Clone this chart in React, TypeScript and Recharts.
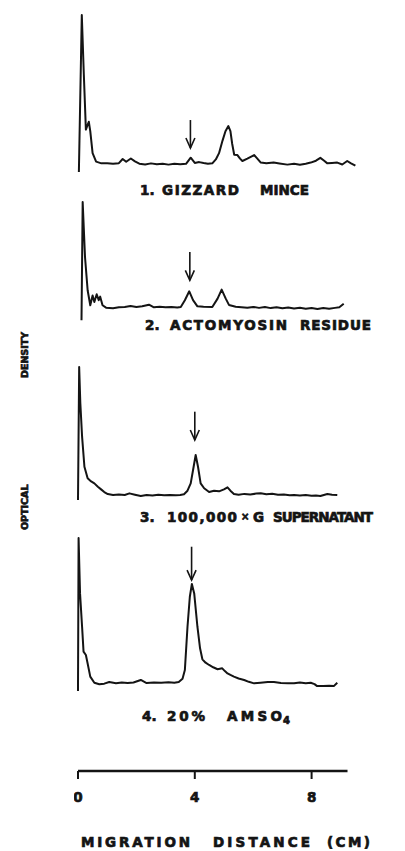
import React from "react";
import { LineChart, Line, XAxis, YAxis, ReferenceLine } from "recharts";

// densitometer traces, distance in cm and optical density in arbitrary units (0-100)
const minceCm = [0.03, 0.13, 0.2, 0.27, 0.33, 0.37, 0.42, 0.5, 0.62, 0.8, 1.0, 1.2, 1.4, 1.53, 1.65, 1.81, 1.95, 2.1, 2.3, 2.5, 2.7, 2.9, 3.1, 3.3, 3.5, 3.7, 3.86, 4.0, 4.15, 4.3, 4.45, 4.6, 4.72, 4.83, 4.95, 5.05, 5.15, 5.22, 5.28, 5.35, 5.46, 5.55, 5.63, 5.8, 5.95, 6.03, 6.12, 6.26, 6.45, 6.7, 6.9, 7.17, 7.4, 7.6, 7.8, 7.97, 8.15, 8.3, 8.42, 8.54, 8.7, 8.88, 9.05, 9.22, 9.35, 9.5];
const minceOd = [0, 100, 62, 27, 30, 32, 26, 12, 6.6, 5.5, 5.5, 5.3, 5.6, 8.3, 6.5, 8.6, 6.8, 5.3, 4.8, 5.5, 4.9, 5.3, 4.7, 5.2, 5, 5.2, 9.1, 5.8, 6.3, 5.7, 5.2, 5.5, 8, 12, 20, 26, 29.3, 26, 18, 11, 10.8, 8.5, 7, 8.5, 10, 10.8, 9, 6, 5.5, 6, 5.4, 4.7, 5.2, 4.6, 5.3, 6, 7.2, 9, 7.3, 5.5, 5.8, 6, 4.8, 7, 5.5, 4];

const residueCm = [0.12, 0.16, 0.24, 0.33, 0.42, 0.5, 0.56, 0.64, 0.71, 0.76, 0.84, 0.96, 1.2, 1.4, 1.6, 1.8, 2.0, 2.2, 2.43, 2.6, 2.8, 3.0, 3.2, 3.4, 3.52, 3.66, 3.81, 3.94, 4.09, 4.3, 4.6, 4.78, 4.92, 5.06, 5.17, 5.4, 5.6, 5.8, 6.0, 6.2, 6.4, 6.6, 6.8, 7.0, 7.2, 7.4, 7.6, 7.8, 8.0, 8.2, 8.4, 8.6, 8.8, 8.95, 9.1];
const residueOd = [0, 100, 53.5, 25.4, 12.7, 21, 15.5, 22, 17, 20, 12.7, 10.7, 10.2, 11, 11.3, 12, 11.3, 11.8, 13.2, 11, 11.5, 11, 11.3, 10.8, 11.3, 17, 24.5, 17, 11.8, 11.5, 11.3, 18.3, 26, 18.3, 13, 11.5, 11, 10.6, 11.3, 10.5, 11.2, 10.3, 11, 10.2, 10.8, 10, 10.6, 9.8, 10.4, 9.6, 10.4, 9.8, 10.5, 11, 14];

const supernatantCm = [0, 0.04, 0.08, 0.14, 0.22, 0.33, 0.45, 0.56, 0.68, 0.79, 0.9, 1.02, 1.2, 1.4, 1.6, 1.76, 1.95, 2.15, 2.35, 2.55, 2.75, 2.95, 3.15, 3.35, 3.5, 3.63, 3.75, 3.86, 3.96, 4.03, 4.11, 4.2, 4.32, 4.49, 4.66, 4.83, 5.0, 5.12, 5.22, 5.34, 5.5, 5.7, 5.9, 6.1, 6.26, 6.45, 6.65, 6.85, 7.05, 7.25, 7.4, 7.6, 7.8, 8.0, 8.15, 8.3, 8.42, 8.54, 8.7, 8.88];
const supernatantOd = [0, 100, 72.7, 47.6, 25, 16.3, 14, 12.5, 10, 8, 6, 4.5, 3.8, 4.2, 3.8, 5, 4, 3, 3.8, 3.3, 4, 3.5, 3.8, 3.6, 3.8, 4.3, 7, 12.5, 25, 33.8, 25, 12.5, 8.8, 6, 7, 6.5, 8, 9.5, 7, 4.5, 4, 4.6, 4.2, 4.8, 5, 4.4, 4.7, 4, 4.2, 3.6, 3.8, 3.4, 3.7, 3.2, 3.4, 3, 3.8, 4.5, 4, 3.8];

const amso4Cm = [0, 0.02, 0.07, 0.14, 0.19, 0.27, 0.33, 0.42, 0.56, 0.73, 0.9, 1.07, 1.3, 1.5, 1.7, 1.9, 2.15, 2.35, 2.6, 2.85, 3.1, 3.3, 3.45, 3.58, 3.66, 3.75, 3.83, 3.9, 3.98, 4.09, 4.18, 4.26, 4.37, 4.49, 4.63, 4.78, 4.94, 5.03, 5.12, 5.22, 5.34, 5.5, 5.69, 5.85, 6.03, 6.25, 6.5, 6.71, 6.95, 7.2, 7.4, 7.6, 7.8, 7.97, 8.1, 8.19, 8.4, 8.6, 8.76, 8.88];
const amso4Od = [0, 100, 63.8, 42, 25.7, 23.5, 18, 9.4, 5.4, 4.4, 4.8, 5.9, 5, 5.6, 5.2, 5.6, 7.2, 5.2, 5.6, 5.4, 5.7, 5.4, 5.9, 8, 13.7, 42, 61.6, 70, 63.8, 42, 27.9, 20.7, 18.5, 17, 15.5, 14.2, 14.8, 13, 11.5, 10.5, 9.4, 8.2, 7.2, 6, 5, 5.4, 5.9, 5.9, 5.3, 5, 5, 5.6, 5.1, 5.4, 4.5, 3.2, 3.2, 3.4, 3.2, 5.4];

// arrow marking the band of interest in each trace
const arrowCm = [3.85, 3.83, 4.0, 3.89];
const arrowTopOd = [33.1, 57.7, 66.4, 94.3];
const arrowTipOd = [15.3, 33.8, 45.1, 72.5];

const axisTicks = [0, 4, 8];

const INK = "#141414";
const FONT = "'DejaVu Sans', sans-serif";

const toRows = (cm: number[], od: number[]) => cm.map((c, i) => ({ cm: c, od: od[i] }));

const traces = [
    toRows(minceCm, minceOd),
    toRows(residueCm, residueOd),
    toRows(supernatantCm, supernatantOd),
    toRows(amso4Cm, amso4Od),
];

// layout (page pixels)
const PX_PER_CM = 29.2;
const X0 = 77.5;
const PAD = 4;
const panelBoxes = [
    { top: 15, h: 157 },
    { top: 201.7, h: 118.3 },
    { top: 367, h: 133 },
    { top: 538, h: 153 },
];

const Arrow = (p: any) => {
    const { x1, y1, x2, y2 } = p;
    return (
        <g>
            <line x1={x1} y1={y1} x2={x2} y2={y2} stroke={INK} strokeWidth={1.6} />
            <path d={`M${x2 - 4.5},${y2 - 10} L${x2},${y2} L${x2 + 4.5},${y2 - 10}`} fill="none" stroke={INK} strokeWidth={1.6} />
        </g>
    );
};

// heavy lettering; stretched to the width it has in the figure when x1 is given
const Word = ({ x0, x1, y, size = 13.5, children }: any) => (
    <text
        x={x0}
        y={y}
        textLength={x1 ? x1 - x0 : undefined}
        lengthAdjust="spacing"
        fontSize={size}
        fontWeight={700}
        fontFamily={FONT}
        fill={INK}
        stroke={INK}
        strokeWidth={0.7}
    >
        {children}
    </text>
);

const Panel = ({ index }: { index: number }) => {
    const box = panelBoxes[index];
    const xMax = 9.6;
    return (
        <div style={{ position: "absolute", left: X0 - PAD, top: box.top - PAD }}>
            <LineChart
                width={xMax * PX_PER_CM + 2 * PAD}
                height={box.h + 2 * PAD}
                data={traces[index]}
                margin={{ top: PAD, right: PAD, bottom: PAD, left: PAD }}
            >
                <XAxis dataKey="cm" type="number" domain={[0, xMax]} hide />
                <YAxis type="number" domain={[0, 100]} hide />
                <Line
                    type="linear"
                    dataKey="od"
                    stroke={INK}
                    strokeWidth={2}
                    strokeLinejoin="round"
                    dot={false}
                    isAnimationActive={false}
                />
                <ReferenceLine
                    segment={[
                        { x: arrowCm[index], y: arrowTopOd[index] },
                        { x: arrowCm[index], y: arrowTipOd[index] },
                    ]}
                    shape={Arrow}
                />
            </LineChart>
        </div>
    );
};

const DistanceAxis = () => {
    const xMax = 9.23;
    return (
        <div style={{ position: "absolute", left: 78 - PAD, top: 771 - 6 - PAD }}>
            <LineChart
                width={xMax * PX_PER_CM + 2 * PAD}
                height={PAD + 6 + 40}
                data={axisTicks.map((t) => ({ cm: t }))}
                margin={{ top: PAD, right: PAD, bottom: 0, left: PAD }}
            >
                <XAxis
                    dataKey="cm"
                    type="number"
                    domain={[0, xMax]}
                    ticks={axisTicks}
                    height={40}
                    tickSize={8}
                    tickMargin={13}
                    axisLine={{ stroke: INK, strokeWidth: 2.5 }}
                    tickLine={{ stroke: INK, strokeWidth: 2 }}
                    tick={{ fill: INK, stroke: INK, strokeWidth: 0.7, fontSize: 13.5, fontWeight: 700, fontFamily: FONT }}
                />
                <YAxis type="number" domain={[0, 1]} hide />
            </LineChart>
        </div>
    );
};

export default function App() {
    return (
        <div style={{ position: "absolute", left: 0, top: 0, width: 405, height: 851, background: "#fff", overflow: "hidden" }}>
            {traces.map((_, i) => (
                <Panel key={i} index={i} />
            ))}
            <DistanceAxis />

            <svg width={405} height={851} style={{ position: "absolute", left: 0, top: 0, pointerEvents: "none" }}>
                {/* panel captions */}
                <Word x0={140} y={195}>1.</Word>
                <Word x0={162} x1={239} y={195}>GIZZARD</Word>
                <Word x0={260} x1={309} y={195}>MINCE</Word>

                <Word x0={145} y={330}>2.</Word>
                <Word x0={170} x1={287} y={330}>ACTOMYOSIN</Word>
                <Word x0={300} x1={371} y={330}>RESIDUE</Word>

                <Word x0={140} y={521.5}>3.</Word>
                <Word x0={167} x1={237} y={521.5}>100,000</Word>
                <Word x0={241} y={520} size={10}>×</Word>
                <Word x0={253} y={521.5}>G</Word>
                <Word x0={273} x1={373} y={521.5}>SUPERNATANT</Word>

                <Word x0={142} y={721}>4.</Word>
                <Word x0={167} x1={205} y={721}>20%</Word>
                <Word x0={227} x1={282} y={721}>AMSO</Word>
                <Word x0={283} y={724} size={10}>4</Word>

                {/* x axis title */}
                <Word x0={81} x1={190} y={846.5}>MIGRATION</Word>
                <Word x0={213} x1={310} y={846.5}>DISTANCE</Word>
                <Word x0={327} x1={370} y={846.5}>(CM)</Word>

                {/* y axis title, reading upward */}
                <g transform="translate(27.5, 530) rotate(-90)">
                    <Word x0={0} y={0} size={9.5}>OPTICAL</Word>
                </g>
                <g transform="translate(27.5, 378) rotate(-90)">
                    <Word x0={0} y={0} size={9.5}>DENSITY</Word>
                </g>
            </svg>
        </div>
    );
}
